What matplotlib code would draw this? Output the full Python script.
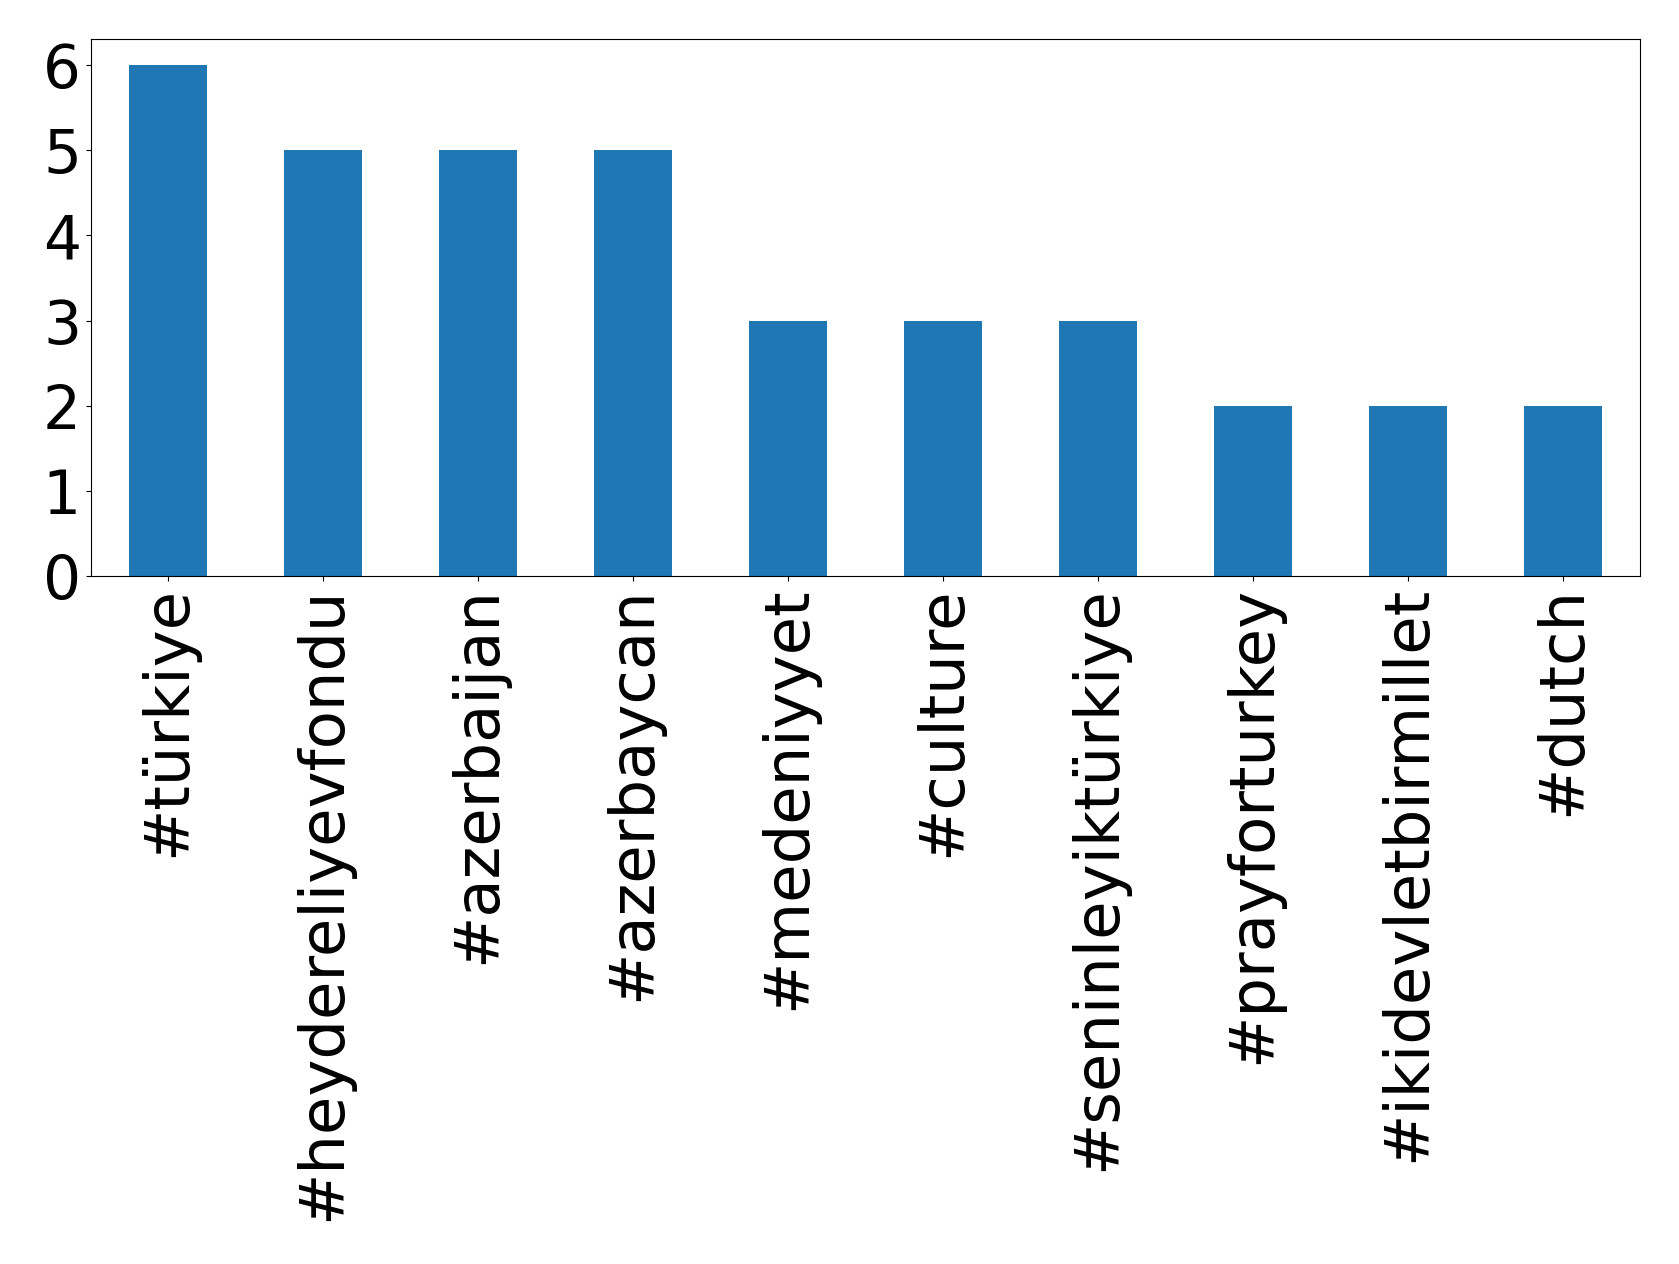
import matplotlib
matplotlib.use("Agg")
import matplotlib.pyplot as plt

categories = ["#türkiye", "#heydereliyevfondu", "#azerbaijan", "#azerbaycan",
              "#medeniyyet", "#culture", "#seninleyiktürkiye", "#prayforturkey",
              "#ikidevletbirmillet", "#dutch"]
values = [6, 5, 5, 5, 3, 3, 3, 2, 2, 2]

fig = plt.figure(figsize=(16.79, 12.64), dpi=100)
ax = fig.add_axes([0.054, 0.544, 0.923, 0.425])
x = range(len(categories))
ax.bar(x, values, width=0.5, color="#1f77b4")
ax.set_xlim(-0.5, len(categories) - 0.5)
ax.set_xticks(list(x))
ax.set_xticklabels(categories, rotation=90, fontsize=45)
ax.set_yticks(range(0, 7))
ax.tick_params(axis="y", labelsize=43)
fig.savefig("out.png", dpi=100)
